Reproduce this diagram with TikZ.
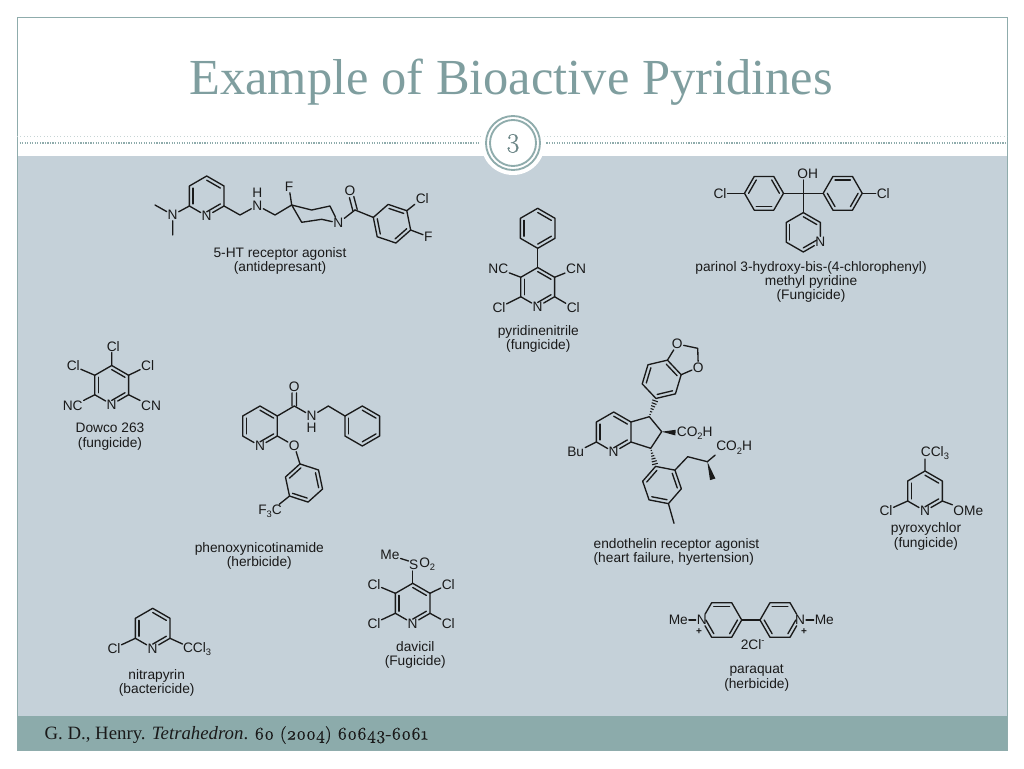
\documentclass[tikz,border=0pt]{standalone}
\usepackage{fontspec}
\usetikzlibrary{calc}
\setmainfont{Liberation Sans}
\newfontfamily\titlef{Liberation Serif}
\newfontfamily\oldf{Latin Modern Roman}[Numbers=OldStyle,FakeBold=0.35]
\definecolor{panelc}{HTML}{C5D1D9}
\definecolor{footc}{HTML}{8CABAB}
\definecolor{framec}{HTML}{8FACAC}
\definecolor{titlec}{HTML}{7F9E9F}
\definecolor{inkc}{HTML}{1A1A1A}
\tikzset{
  bond/.style={draw=inkc,line width=1pt,line join=round,line cap=round},
  atom/.style={inner sep=0.8pt,outer sep=0pt,text=inkc,font=\fontsize{10.3}{10.3}\selectfont},
  capt/.style={inner sep=0pt,text=inkc,align=center,font=\fontsize{10.3}{10.75}\selectfont},
  hashb/.style={draw=inkc,line width=0.8pt}
}
\newcommand{\subn}[1]{\raisebox{-0.22em}{\fontsize{7}{7}\selectfont #1}}
\newcommand{\supn}[1]{\raisebox{0.42em}{\fontsize{7}{7}\selectfont #1}}
\newcommand{\hexat}[5]{%
  \coordinate (#1c) at (#2,#3);
  \foreach \i in {1,...,6}{%
    \pgfmathsetmacro\ang{-(#5)+60*(\i-1)}%
    \coordinate (#1\i) at ([shift={(#2,#3)}]\ang:#4);
  }%
}
\newcommand{\hexedges}[1]{\draw[bond] (#11)--(#12)--(#13)--(#14)--(#15)--(#16)--(#11);}
\newcommand{\dbin}[3]{\draw[bond] ($(#1c)!.79!(#1#2)$) -- ($(#1c)!.79!(#1#3)$);}
\newcommand{\stdb}[1]{\dbin{#1}{1}{2}\dbin{#1}{3}{4}\dbin{#1}{5}{6}}
\newcommand{\altb}[1]{\dbin{#1}{2}{3}\dbin{#1}{4}{5}\dbin{#1}{6}{1}}
\newcommand{\carbonyl}[2]{%
  \draw[bond] ($(#1)!1.7pt!90:(#2)$) -- ($(#1)!.68!(#2)!1.7pt!90:(#2)$);
  \draw[bond] ($(#1)!1.7pt!-90:(#2)$) -- ($(#1)!.68!(#2)!1.7pt!-90:(#2)$);
}
\newcommand{\wedgeb}[2]{\fill[inkc] (#1) -- ($(#2)!2.1pt!90:(#1)$) -- ($(#2)!2.1pt!-90:(#1)$) -- cycle;}
\newcommand{\hashbond}[2]{%
  \foreach \t/\w in {0.12/0.5pt,0.27/0.85pt,0.42/1.2pt,0.57/1.55pt,0.72/1.9pt,0.87/2.2pt,1.0/2.5pt}{%
    \draw[hashb] ($(#1)!\t!(#2)!\w!90:(#2)$) -- ($(#1)!\t!(#2)!\w!-90:(#2)$);
  }%
}
\begin{document}
\begin{tikzpicture}[x=0.75pt,y=-0.75pt]
\useasboundingbox (0,0) rectangle (1024,768);
\fill[white] (0,0) rectangle (1024,768);
% slide frame
\fill[panelc] (17,156) rectangle (1007,716);
\fill[footc] (17,716) rectangle (1007,750);
\draw[framec,line width=0.7pt] (17,17) rectangle (1007,750);
\draw[framec!50,line width=0.5pt,dotted] (17,136) -- (1007,136);
\draw[framec,line width=0.9pt,densely dotted] (17,143) -- (1007,143);
\fill[white] (513,143) circle (32);
\draw[framec,line width=1.4pt] (513,143) circle (27);
\draw[framec,line width=1.4pt] (513,143) circle (23);
\node[inner sep=0pt,text=titlec!85!black,font=\oldf\fontsize{21}{21}\selectfont] (pageno) at (513,143.5) {3};
\node[inner sep=0pt,text=titlec,font=\titlef\fontsize{37.85}{37.85}\selectfont] (title) at (511,82.5) {Example of Bioactive Pyridines};
\node[inner sep=0pt,anchor=base west,text=inkc,font=\titlef\fontsize{14.1}{14.1}\selectfont] (foot) at (44.3,739.5) {G. D., Henry. \textit{Tetrahedron}. {\oldf\fontsize{13.3}{13.3}\selectfont 60 (2004) 60643-6061}};

% ---- 5-HT receptor agonist
\hexat{a}{206.7}{196}{20}{90}
\node[atom] (a4) at (a4) {N};
\hexedges{a}\stdb{a}
\node[atom] (an) at (172.7,215) {N};
\coordinate (am1) at (155,205);
\coordinate (am2) at (172.7,235);
\draw[bond] (a5)--(an) (an)--(am1) (an)--(am2);
\coordinate (ac1) at (240,215);
\node[atom] (anh) at (257.3,205.5) {N};
\node[atom] (anhh) at (257.3,193) {H};
\coordinate (ac2) at (275,215);
\coordinate (aq) at (291.7,205);
\node[atom] (af) at (289,187) {F};
\draw[bond] (a3)--(ac1)--(anh)--(ac2)--(aq)--(af);
\coordinate (ap1) at (311.7,210);
\coordinate (ap2) at (330,206);
\node[atom] (apn) at (338.3,223) {N};
\coordinate (ap3) at (321.7,219.3);
\coordinate (ap4) at (301.7,222.3);
\draw[bond] (aq)--(ap1)--(ap2)--(apn)--(ap3)--(ap4)--(aq);
\coordinate (aco) at (355,210);
\node[atom] (aox) at (350,191) {O};
\draw[bond] (apn)--(aco);
\carbonyl{aco}{aox}
\hexat{b}{392}{223.7}{19.7}{161.3}
\hexedges{b}\altb{b}
\node[atom] (bcl) at (422.3,198.3) {Cl};
\node[atom] (bf) at (428.3,236.7) {F};
\draw[bond] (aco)--(b1) (b3)--(bcl) (b4)--(bf);
\node[capt] (capa) at (280,261) {5-HT receptor agonist\\(antidepresant)};

% ---- pyridinenitrile
\hexat{c}{537.7}{228.3}{20}{90}
\hexedges{c}\stdb{c}
\hexat{d}{537.7}{287}{19.5}{90}
\node[atom] (d4) at (d4) {N};
\hexedges{d}\stdb{d}
\draw[bond] (c4)--(d1);
\node[atom] (dnc) at (498.3,268.7) {NC};
\node[atom] (dcn) at (576,268.7) {CN};
\node[atom] (dcl1) at (499,307.7) {Cl};
\node[atom] (dcl2) at (573.3,307.7) {Cl};
\draw[bond] (d6)--(dnc) (d2)--(dcn) (d5)--(dcl1) (d3)--(dcl2);
\node[capt] (capd) at (538.3,339) {pyridinenitrile\\(fungicide)};

% ---- parinol
\coordinate (pivot) at (803.3,193.3);
\hexat{e}{764}{193.3}{19.5}{120}
\hexedges{e}\altb{e}
\hexat{f}{842.7}{193.3}{19.5}{120}
\hexedges{f}\stdb{f}
\hexat{g}{803.3}{232.3}{19.7}{90}
\node[atom] (g3) at (g3) {N};
\hexedges{g}\stdb{g}
\node[atom] (eoh) at (807.7,174) {OH};
\node[atom] (ecl) at (720,193.3) {Cl};
\node[atom] (fcl) at (883.3,193.3) {Cl};
\coordinate (eoh0) at (803.3,180);
\draw[bond] (eoh0)--(pivot)--(g1) (e3)--(pivot)--(f6) (ecl)--(e6) (f3)--(fcl);
\node[capt] (cape) at (811,282) {parinol 3-hydroxy-bis-(4-chlorophenyl)\\methyl pyridine\\(Fungicide)};

% ---- Dowco 263
\hexat{h}{111.7}{385}{19.5}{90}
\node[atom] (h4) at (h4) {N};
\hexedges{h}\stdb{h}
\node[atom] (hcl1) at (113.3,346.7) {Cl};
\node[atom] (hcl2) at (73.3,366) {Cl};
\node[atom] (hcl3) at (147.7,366) {Cl};
\node[atom] (hnc) at (72.7,406) {NC};
\node[atom] (hcn) at (151,406) {CN};
\coordinate (hcl1b) at (111.7,352.5);
\draw[bond] (h1)--(hcl1b) (h6)--(hcl2) (h2)--(hcl3) (h5)--(hnc) (h3)--(hcn);
\node[capt] (caph) at (110,436.5) {Dowco 263\\(fungicide)};

% ---- phenoxynicotinamide
\hexat{i}{260}{426}{20}{90}
\node[atom] (i4) at (i4) {N};
\hexedges{i}\stdb{i}
\coordinate (ico) at (294.3,406);
\node[atom] (iox) at (294.3,386.7) {O};
\node[atom] (inh) at (311.7,416) {N};
\node[atom] (inhh) at (311.7,428) {H};
\coordinate (ich) at (328.3,406);
\hexat{j}{362.3}{426}{20}{90}
\hexedges{j}\stdb{j}
\draw[bond] (i2)--(ico)--(inh)--(ich)--(j6);
\carbonyl{ico}{iox}
\node[atom] (iop) at (294.3,445.7) {O};
\hexat{k}{304}{483}{19.5}{102}
\hexedges{k}\altb{k}
\node[atom] (kf) at (270,511.7) {F\subn{3}C};
\draw[bond] (i3)--(iop)--(k1) (k5)--(kf);
\node[capt] (capi) at (259.3,556) {phenoxynicotinamide\\(herbicide)};

% ---- endothelin receptor agonist
\hexat{r}{613.7}{432}{20}{90}
\node[atom] (r4) at (r4) {N};
\hexedges{r}\stdb{r}
\node[atom] (rbu) at (575.7,452.3) {Bu};
\draw[bond] (r5)--(rbu);
\coordinate (sa) at (649.3,416.7);
\coordinate (sb) at (661.7,431.7);
\coordinate (sc) at (650.7,448.3);
\draw[bond] (r2)--(sa)--(sb)--(sc)--(r3);
\hexat{u}{661.7}{379.3}{20}{253.3}
\hexedges{u}\altb{u}
\node[atom] (uot) at (677.3,344) {O};
\coordinate (uch) at (697.7,348.3);
\node[atom] (uob) at (698.3,367.3) {O};
\draw[bond] (u4)--(uot)--(uch)--(uob)--(u5);
\hashbond{sa}{u1}
\hexat{v}{662}{485}{19.7}{109}
\hexedges{v}\altb{v}
\hashbond{sc}{v1}
\coordinate (vme) at (674,523.3);
\draw[bond] (v4)--(vme);
\node[atom,anchor=west] (sco) at (675.8,433) {CO\subn{2}H};
\coordinate (scw) at (675.5,432.6);
\wedgeb{sb}{scw}
\coordinate (vc1) at (687.7,456.7);
\coordinate (vc2) at (707.3,461.7);
\coordinate (vme2) at (712.7,479.3);
\node[atom,anchor=west] (vco) at (715.2,447.7) {CO\subn{2}H};
\draw[bond] (v2)--(vc1)--(vc2)--(vco.south west);
\wedgeb{vc2}{vme2}
\node[capt,align=left] (capr) at (676.5,551.8) {endothelin receptor agonist\\(heart failure, hyertension)};

% ---- davicil
\hexat{m}{412.7}{603.3}{20}{90}
\node[atom] (m4) at (m4) {N};
\hexedges{m}\stdb{m}
\node[atom] (mme) at (390,555) {Me};
\node[atom,anchor=west] (mso) at (408,564.3) {S};
\node[atom,anchor=west,inner xsep=0pt] (mo2) at (mso.east) {O\subn{2}};
\coordinate (mcs) at (412.7,571);
\draw[bond] (m1)--(mcs);
\coordinate (msw) at (408.5,561);
\draw[bond] (mme)--(msw);
\node[atom] (mcl1) at (374,584.3) {Cl};
\node[atom] (mcl2) at (448.3,584.3) {Cl};
\node[atom] (mcl3) at (374,623.3) {Cl};
\node[atom] (mcl4) at (448.3,623.3) {Cl};
\draw[bond] (m6)--(mcl1) (m2)--(mcl2) (m5)--(mcl3) (m3)--(mcl4);
\node[capt] (capm) at (415.3,655) {davicil\\(Fugicide)};

% ---- nitrapyrin
\hexat{n}{152.7}{628.3}{20}{90}
\node[atom] (n4) at (n4) {N};
\hexedges{n}\stdb{n}
\node[atom] (ncl) at (114,648.3) {Cl};
\node[atom,anchor=west] (ncc) at (182,649) {CCl\subn{3}};
\coordinate (nccw) at (182.5,644);
\draw[bond] (n5)--(ncl) (n3)--(nccw);
\node[capt] (capn) at (156.7,683) {nitrapyrin\\(bactericide)};

% ---- pyroxychlor
\hexat{p}{925}{491}{20}{90}
\node[atom] (p4) at (p4) {N};
\hexedges{p}\stdb{p}
\node[atom,anchor=west] (pcc) at (919.8,452.7) {CCl\subn{3}};
\coordinate (pccb) at (925,459);
\node[atom] (pcl) at (886,510.7) {Cl};
\node[atom] (pome) at (968.3,510.7) {OMe};
\draw[bond] (p1)--(pccb) (p5)--(pcl) (p3)--(pome);
\node[capt] (capp) at (926,536.3) {pyroxychlor\\(fungicide)};

% ---- paraquat
\hexat{w}{721.7}{620}{20}{120}
\node[atom] (w6) at (w6) {N};
\hexedges{w}\stdb{w}
\hexat{y}{780}{620}{20}{120}
\node[atom] (y3) at (y3) {N};
\hexedges{y}\stdb{y}
\draw[bond] (w3)--(y6);
\node[atom] (wme) at (678.3,620) {Me};
\node[atom] (yme) at (824.3,620) {Me};
\draw[bond] (wme)--(w6) (y3)--(yme);
\node[inner sep=0pt,text=inkc,font=\bfseries\fontsize{7.5}{7.5}\selectfont] (wp) at (699,631.5) {+};
\node[inner sep=0pt,text=inkc,font=\bfseries\fontsize{7.5}{7.5}\selectfont] (yp) at (804,631.5) {+};
\node[atom] (zcl) at (752.7,644.3) {2Cl\supn{-}};
\node[capt] (capw) at (756.7,678) {paraquat\\(herbicide)};
\end{tikzpicture}
\end{document}
